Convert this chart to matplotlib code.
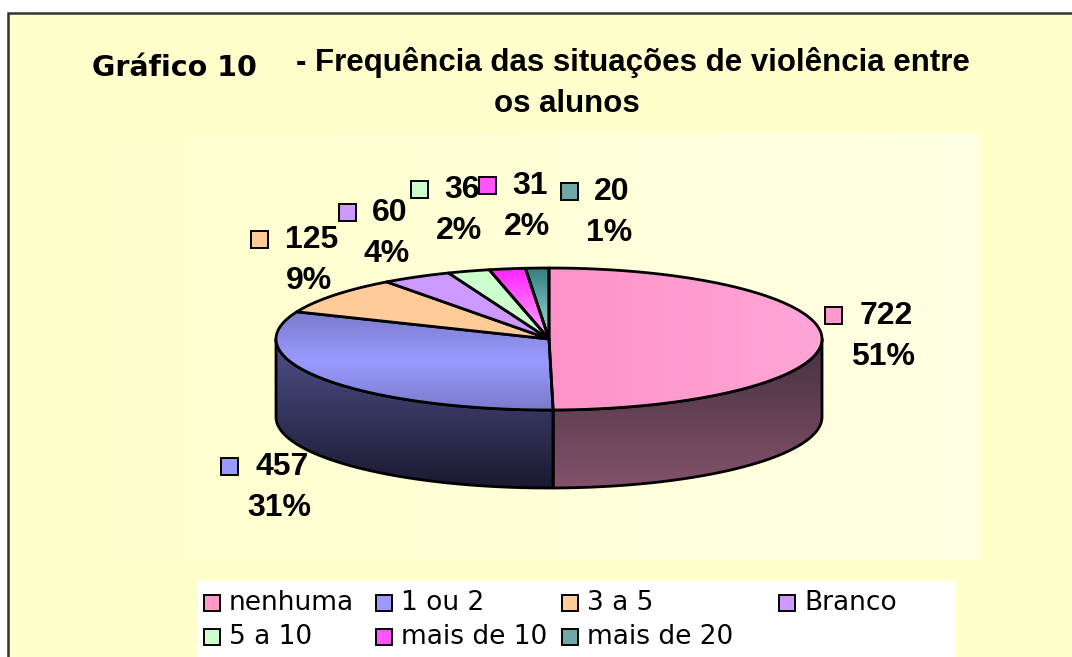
import numpy as np
import matplotlib.pyplot as plt
from matplotlib.patches import Polygon, Rectangle
from matplotlib.colors import LinearSegmentedColormap

# data
categories = ['nenhuma', '1 ou 2', '3 a 5', 'Branco', '5 a 10', 'mais de 10', 'mais de 20']
counts = [722, 457, 125, 60, 36, 31, 20]
pct_labels = ['51%', '31%', '9%', '4%', '2%', '2%', '1%']

# styling
top_colors = [['#FF92C8', '#FFA6D6'], ['#7A7ACC', '#9A9AFF', '#7A7ACC'], ['#FFCC99'],
              ['#CC99FF'], ['#CCFFCC'], ['#FF22FF', '#FFAAFF'], ['#2F7F7F', '#AADDDD']]
key_colors = ['#FF99CC', '#9999FF', '#FFCC99', '#CC99FF', '#CCFFCC', '#FF55FF', '#70A8A8']
side_colors = [['#44303E', '#84526C'], ['#50508A', '#1A1A30']]

# layout (pixels)
cx, cy, ra, rb, depth = 549, 339, 273, 71, 78
label_pos = [(886, 316), (282, 467), (312, 240), (390, 213), (462, 190), (530, 186), (612, 192)]

fig = plt.figure(figsize=(10.72, 6.57), dpi=100)
ax = fig.add_axes([0, 0, 1, 1])
ax.axis('off')


def grad_fill(verts, cols, z, horizontal=False, lw=2.0):
    verts = np.asarray(verts)
    poly = Polygon(verts, closed=True, facecolor='none', edgecolor='black', lw=lw,
                   joinstyle='round', zorder=z + 0.1)
    ax.add_patch(poly)
    if len(cols) == 1:
        poly.set_facecolor(cols[0])
        return
    cmap = LinearSegmentedColormap.from_list('g', cols)
    g = np.linspace(0, 1, 256)
    g = g.reshape(1, -1) if horizontal else g.reshape(-1, 1)
    xs, ys = verts[:, 0], verts[:, 1]
    im = ax.imshow(g, cmap=cmap, extent=(xs.min(), xs.max(), ys.max(), ys.min()),
                   aspect='auto', zorder=z, interpolation='bilinear')
    im.set_clip_path(poly)


def ell(t):
    t = np.radians(t)
    return np.column_stack([cx + ra * np.sin(t), cy - rb * np.cos(t)])


# background
ax.add_patch(Rectangle((8, 13), 1100, 700, facecolor='#FFFFCC', edgecolor='#333333', lw=1.8, zorder=0))
grad_fill([(70, 133), (980, 133), (980, 560), (70, 560)], ['#FFFFCC', '#FFFFE4'], 0.5,
          horizontal=True, lw=0)

# slices
angles = np.concatenate([[0], np.cumsum(counts) / np.sum(counts) * 360])

# side walls (front half only)
for i in range(len(counts)):
    t1, t2 = max(angles[i], 90), min(angles[i + 1], 270)
    if t2 <= t1:
        continue
    tt = np.linspace(t1, t2, 80)
    top = ell(tt)
    bot = top + np.array([0, depth])
    grad_fill(np.vstack([top, bot[::-1]]), side_colors[min(i, 1)], 2)

# top faces
for i in range(len(counts)):
    tt = np.linspace(angles[i], angles[i + 1], 120)
    verts = np.vstack([[cx, cy], ell(tt)])
    grad_fill(verts, top_colors[i], 3, horizontal=(i == 0))

# data labels
for (x, y), n, p, kc in zip(label_pos, counts, pct_labels, key_colors):
    txt = str(n)
    ax.text(x, y, txt, ha='center', va='center', fontsize=23, fontweight='bold',
            family='Liberation Sans', zorder=5)
    w = len(txt) * 9.2
    ax.add_patch(Rectangle((x - w - 33, y - 9), 17, 17, facecolor=kc, edgecolor='black', lw=1.4, zorder=5))
    ax.text(x - 3, y + 41, p, ha='center', va='center', fontsize=23, fontweight='bold',
            family='Liberation Sans', zorder=5)

# titles
ax.text(92, 68, 'Gráfico 10', ha='left', va='center', fontsize=20.5, fontweight='bold',
        family='DejaVu Sans', zorder=5)
ax.text(633, 62, '- Frequência das situações de violência entre', ha='center', va='center',
        fontsize=22.5, fontweight='bold', family='Liberation Sans', zorder=5)
ax.text(567, 104, 'os alunos', ha='center', va='center', fontsize=22.5, fontweight='bold',
        family='Liberation Sans', zorder=5)

# legend
ax.add_patch(Rectangle((198, 581), 757, 100, facecolor='white', edgecolor='none', zorder=4))
leg_x = [204, 376, 562, 779]
for k, (name, kc) in enumerate(zip(categories, key_colors)):
    row, col = divmod(k, 4)
    x, y = leg_x[col], 603 + row * 34
    ax.add_patch(Rectangle((x, y - 8), 16, 16, facecolor=kc, edgecolor='black', lw=1.4, zorder=5))
    ax.text(x + 25, y, name, ha='left', va='center', fontsize=19, family='DejaVu Sans', zorder=5)

ax.set_xlim(0, 1072)
ax.set_ylim(657, 0)
fig.savefig('out.png', dpi=100, facecolor='white')
